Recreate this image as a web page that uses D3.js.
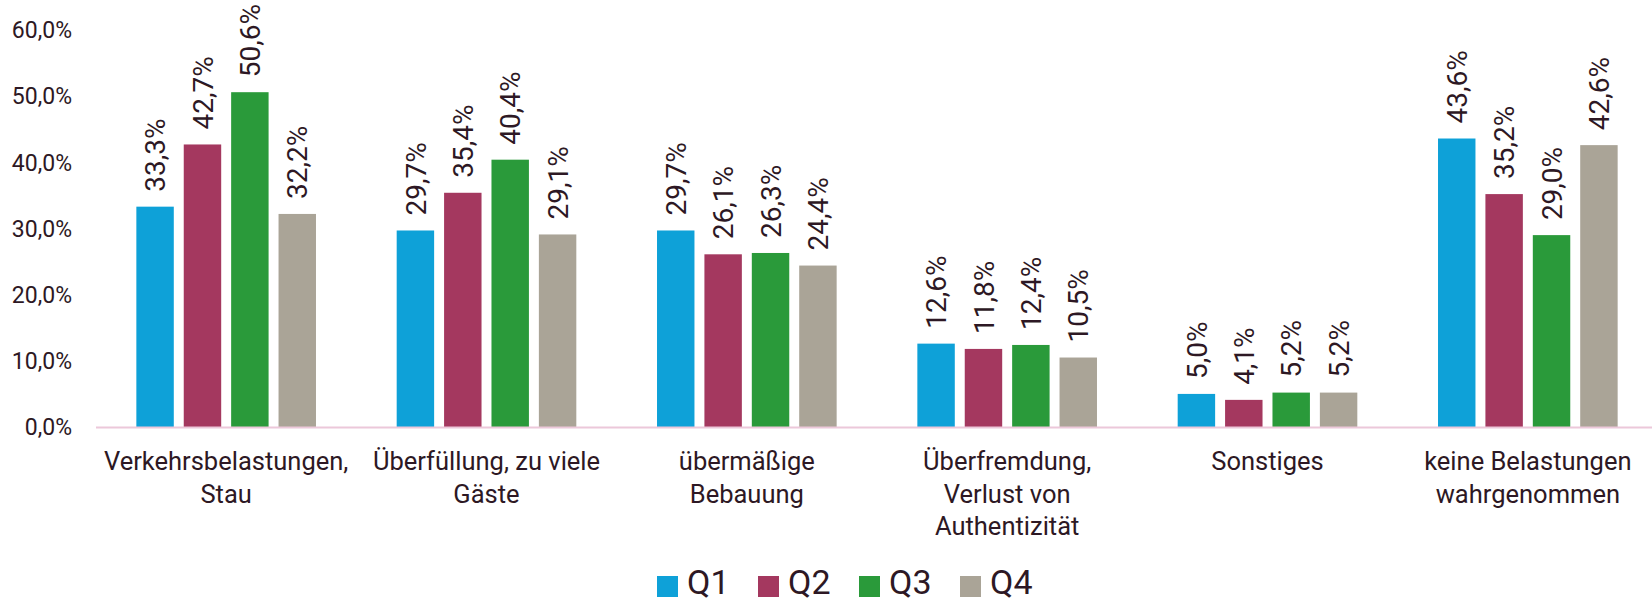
<!DOCTYPE html>
<html>
<head>
<meta charset="utf-8">
<script src="https://cdn.jsdelivr.net/npm/d3@7"></script>
<style>
  body { margin: 0; background: #fff; }
  text { font-family: Roboto, "Noto Sans", sans-serif; fill: #2d1824; }
</style>
</head>
<body>
<div id="chart"></div>
<script>
var categories = [
  ["Verkehrsbelastungen,", "Stau"],
  ["Überfüllung, zu viele", "Gäste"],
  ["übermäßige", "Bebauung"],
  ["Überfremdung,", "Verlust von", "Authentizität"],
  ["Sonstiges"],
  ["keine Belastungen", "wahrgenommen"]
];
var seriesNames = ["Q1", "Q2", "Q3", "Q4"];
var colors = ["#0ea1d8", "#a4385f", "#2a9a3a", "#aaa497"];
var q1 = [33.3, 29.7, 29.7, 12.6, 5.0, 43.6];
var q2 = [42.7, 35.4, 26.1, 11.8, 4.1, 35.2];
var q3 = [50.6, 40.4, 26.3, 12.4, 5.2, 29.0];
var q4 = [32.2, 29.1, 24.4, 10.5, 5.2, 42.6];
var yTicks = [0, 10, 20, 30, 40, 50, 60];

var width = 1652, height = 603;
var svg = d3.select("#chart").append("svg")
  .attr("width", width)
  .attr("height", height);

var values = [q1, q2, q3, q4];
var fmt = function(v) { return v.toFixed(1).replace(".", ",") + "%"; };

// scales
var x0 = d3.scaleBand()
  .domain(d3.range(categories.length))
  .range([96, 1658])
  .paddingInner(0.31)
  .paddingOuter(0.155);
var x1 = d3.scaleBand()
  .domain(seriesNames)
  .range([0, x0.bandwidth()])
  .paddingInner(0.21);
var y = d3.scaleLinear().domain([0, 60]).range([427, 30]);

// y axis labels
svg.append("g").selectAll("text")
  .data(yTicks)
  .enter().append("text")
  .attr("x", 72)
  .attr("y", function(d) { return y(d); })
  .attr("dy", "0.36em")
  .attr("text-anchor", "end")
  .style("font-size", "23px")
  .text(function(d) { return d.toFixed(1).replace(".", ",") + "%"; });

// bars
var group = svg.selectAll(".cat")
  .data(categories)
  .enter().append("g")
  .attr("class", "cat")
  .attr("transform", function(d, i) { return "translate(" + x0(i) + ",0)"; });

group.selectAll("rect")
  .data(function(d, i) { return seriesNames.map(function(s, k) { return {s: s, k: k, v: values[k][i]}; }); })
  .enter().append("rect")
  .attr("x", function(d) { return x1(d.s); })
  .attr("width", x1.bandwidth())
  .attr("y", function(d) { return y(d.v); })
  .attr("height", function(d) { return y(0) - y(d.v); })
  .attr("fill", function(d) { return colors[d.k]; });

group.selectAll(".val")
  .data(function(d, i) { return seriesNames.map(function(s, k) { return {s: s, k: k, v: values[k][i]}; }); })
  .enter().append("text")
  .attr("class", "val")
  .attr("transform", function(d) {
    return "translate(" + (x1(d.s) + x1.bandwidth() / 2) + "," + (y(d.v) - 15) + ") rotate(-90)";
  })
  .attr("dy", "0.36em")
  .style("font-size", "28px")
  .text(function(d) { return fmt(d.v); });

// axis line
svg.append("line")
  .attr("x1", 96).attr("x2", 1652)
  .attr("y1", y(0) + 0.5).attr("y2", y(0) + 0.5)
  .attr("stroke", "#ecc8da")
  .attr("stroke-width", 2);

// category labels
group.append("text")
  .attr("text-anchor", "middle")
  .style("font-size", "25.5px")
  .selectAll("tspan")
  .data(function(d) { return d; })
  .enter().append("tspan")
  .attr("x", x0.bandwidth() / 2)
  .attr("y", function(d, i) { return 470 + i * 32.5; })
  .text(function(d) { return d; });

// legend
var legend = svg.append("g").selectAll("g")
  .data(seriesNames)
  .enter().append("g")
  .attr("transform", function(d, i) { return "translate(" + (657 + i * 101) + ",575)"; });
legend.append("rect")
  .attr("y", 1)
  .attr("width", 21).attr("height", 21)
  .attr("fill", function(d, i) { return colors[i]; });
legend.append("text")
  .attr("x", 30)
  .attr("y", 19)
  .style("font-size", "34px")
  .text(function(d) { return d; });
</script>
</body>
</html>
